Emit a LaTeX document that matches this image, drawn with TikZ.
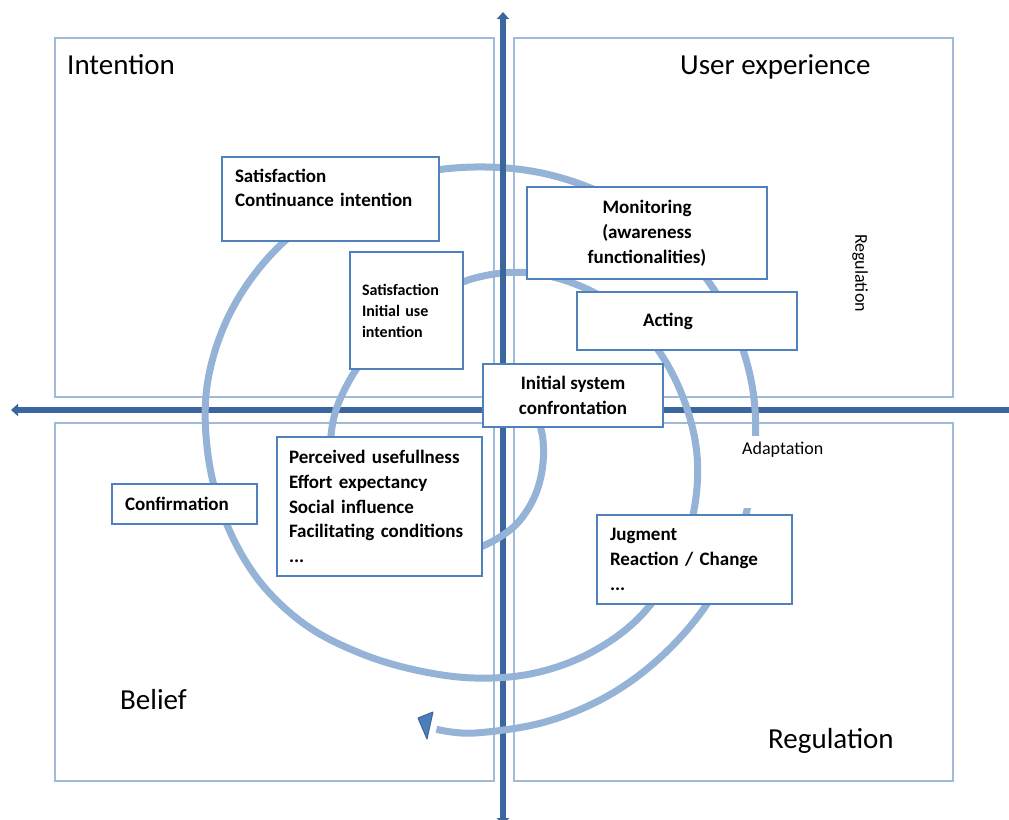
\documentclass[tikz,border=0pt]{standalone}
\usepackage{fontspec}
\setmainfont{Carlito}
\usetikzlibrary{arrows.meta}
\definecolor{axiscol}{RGB}{60,103,158}
\definecolor{spicol}{RGB}{149,179,215}
\definecolor{boxcol}{RGB}{79,129,189}
\definecolor{quadcol}{RGB}{160,186,218}
\definecolor{headcol}{RGB}{74,126,187}
\begin{document}
\begin{tikzpicture}[x=1pt,y=-1pt,
  quad/.style={draw=quadcol,line width=1.3pt},
  axis/.style={draw=axiscol,line width=6pt},
  spiral/.style={draw=spicol,line width=7pt,line cap=butt},
  stepbox/.style={draw=boxcol,line width=2.6pt,fill=white,inner ysep=0pt,font=\bfseries\fontsize{19}{24.8}\selectfont},
  lbox/.style={stepbox,align=left},
  cbox/.style={stepbox,align=center},
  biglabel/.style={inner sep=0pt,font=\fontsize{29}{35}\selectfont},
  smalllabel/.style={inner sep=0pt,font=\fontsize{18}{22}\selectfont}
]
\useasboundingbox (0,0) rectangle (1009,819);
\clip (0,0) rectangle (1009,819);
\fill[white] (0,0) rectangle (1009,819);

% quadrants
\draw[quad] (55,38) rectangle (494,397);
\draw[quad] (514,38) rectangle (953,397);
\draw[quad] (55,423) rectangle (494,781);
\draw[quad] (514,423) rectangle (953,781);

% axes below the spiral
\draw[axis,-{Triangle[width=12pt,length=7pt]}] (1020,410) -- (11,410);
\draw[axis,{Triangle[width=12pt,length=7pt]}-] (503,825) -- (503,400);

% spiral (polar points around a common centre)
\begin{scope}[shift={(475,455)}]
\draw[spiral] plot[smooth,tension=0.6] coordinates {
 (-30:73) (-15:70) (0:68.5) (15:69) (30:71.5) (45:75.5) (60:81) (75:86.5)
 (90:94) (105:103) (120:113) (135:123) (150:132) (165:139) (180:144) (195:146)
 (210:146) (225:148) (240:154) (255:164) (270:177) (285:189) (300:198) (315:206)
 (330:211) (345:216) (360:222) (375:226) (390:229) (405:231) (420:229) (435:226)
 (450:223) (465:223) (480:229) (495:240) (510:250) (525:258) (540:267) (555:277)
 (570:283) (585:286) (600:287) (615:287.5) (630:288) (645:290) (660:291.5) (675:291.5)
 (690:290) (705:286) (720:280) (735:277) (750:276) (765:274.5) (780:275) (795:276)
 (810:278) (818:277)};
\end{scope}
\filldraw[fill=headcol,draw=axiscol,line width=1pt,line join=round] (418,718) -- (433,712) -- (427,739) -- cycle;

% upper vertical axis above the spiral
\draw[axis,-{Triangle[width=12pt,length=7pt]}] (503,402) -- (503,12);

% boxes
\node[lbox,text width=191pt,inner xsep=13pt,minimum height=84pt] (cont) at (330.5,199) {Satisfaction\\Continuance intention\\[-10pt]\strut};
\node[lbox,text width=89pt,inner xsep=12pt,minimum height=117pt,font=\bfseries\fontsize{16}{21}\selectfont] (init) at (406.5,310.5) {Satisfaction\\Initial use\\intention};
\node[cbox,minimum width=240pt,minimum height=92pt] (mon) at (647,233) {Monitoring\\(awareness\\functionalities)};
\node[lbox,text width=88pt,inner xsep=66pt,minimum height=58pt] (act) at (687,321) {Acting};
\node[cbox,minimum width=180pt,minimum height=63pt] (confr) at (573,395.5) {Initial system\\confrontation};
\node[lbox,text width=119pt,inner xsep=13pt,minimum height=40pt] (confirm) at (184.5,504) {Confirmation};
\node[lbox,text width=181pt,inner xsep=12pt,minimum height=139pt] (perc) at (379.5,506.5) {Perceived usefullness\\Effort expectancy\\Social influence\\Facilitating conditions\\...};
\node[lbox,text width=169pt,inner xsep=13pt,minimum height=89pt] (jug) at (694.5,559.5) {Jugment\\Reaction / Change\\...};

% small labels
\node[smalllabel,anchor=base west,fill=white,inner xsep=3pt,inner ysep=2pt,text height=16pt,text depth=52pt] (adapt) at (739,454) {Adaptation};
\node[smalllabel,rotate=-90] (reg2) at (860,273) {Regulation};

% quadrant labels
\node[biglabel,anchor=base west] (intent) at (67,74) {Intention};
\node[biglabel,anchor=base west] (ux) at (680,74) {User experience};
\node[biglabel,anchor=base west] (belief) at (120,709) {Belief};
\node[biglabel,anchor=base west] (regul) at (768,748) {Regulation};
\end{tikzpicture}
\end{document}
